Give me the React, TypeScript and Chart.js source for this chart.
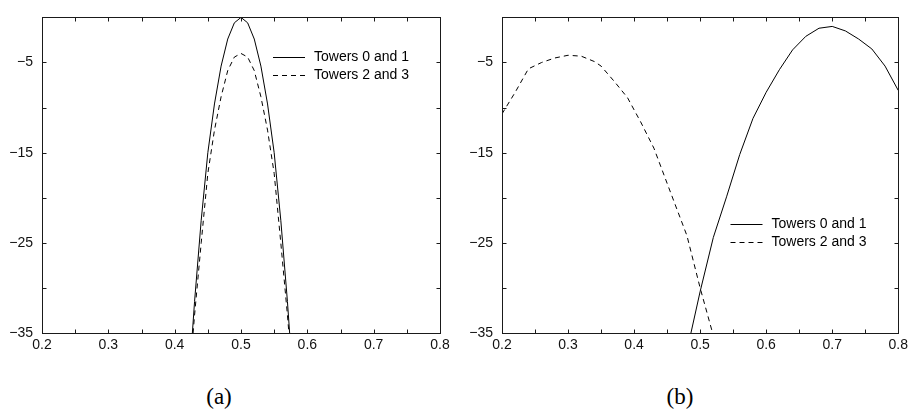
import React, { useEffect, useRef } from "react";
import { Chart, registerables } from "chart.js";

Chart.register(...registerables);

// ---- Panel (a) data ----
const aX = [0.42, 0.43, 0.44, 0.45, 0.46, 0.47, 0.48, 0.49, 0.5, 0.51, 0.52, 0.53, 0.54, 0.55, 0.56, 0.57, 0.58];
const aTowers01 = [-42, -31.5, -22.5, -15, -9.6, -5.4, -2.4, -0.6, 0, -0.6, -2.4, -5.4, -9.6, -15, -22.5, -31.5, -42];
const aTowers23 = [-42, -33, -25, -17.3, -12.5, -8.8, -5.9, -4.4, -4, -4.4, -5.9, -8.8, -12.5, -17.3, -25, -33, -42];

// ---- Panel (b) data ----
const bX01 = [0.48, 0.5, 0.52, 0.54, 0.56, 0.58, 0.6, 0.62, 0.64, 0.66, 0.68, 0.7, 0.72, 0.74, 0.76, 0.78, 0.8];
const bTowers01 = [-37, -30.4, -24.4, -19.9, -15.2, -11.2, -8.3, -5.8, -3.6, -2.1, -1.2, -1.0, -1.5, -2.4, -3.5, -5.4, -8.1];
const bX23 = [0.2, 0.22, 0.24, 0.26, 0.28, 0.3, 0.32, 0.34, 0.35, 0.37, 0.39, 0.41, 0.43, 0.45, 0.48, 0.5, 0.52];
const bTowers23 = [-10.7, -8.3, -5.7, -5.0, -4.5, -4.2, -4.3, -4.9, -5.4, -7.1, -8.9, -11.6, -14.5, -18.4, -24.2, -30.0, -35.3];

const seriesLabels = ["Towers 0 and 1", "Towers 2 and 3"];
const xMin = 0.2, xMax = 0.8, xStep = 0.05;
const yMin = -35, yMax = 0, yStep = 5;

const FONT = '"Liberation Sans", Arial, Helvetica, sans-serif';

const framePlugin = {
  id: "frame",
  afterDatasetsDraw(chart: any) {
    const { ctx, chartArea, scales } = chart;
    const l = Math.round(chartArea.left) + 0.5;
    const r = Math.round(chartArea.right) + 0.5;
    const t = Math.round(chartArea.top) + 0.5;
    const b = Math.round(chartArea.bottom) + 0.5;
    const L = 4;
    ctx.save();
    ctx.strokeStyle = "#1a1a1a";
    ctx.lineWidth = 1;
    ctx.strokeRect(l, t, r - l, b - t);
    ctx.beginPath();
    scales.x.ticks.forEach((tk: any) => {
      const px = Math.round(scales.x.getPixelForValue(tk.value)) + 0.5;
      ctx.moveTo(px, b);
      ctx.lineTo(px, b - L);
      ctx.moveTo(px, t);
      ctx.lineTo(px, t + L);
    });
    scales.y.ticks.forEach((tk: any) => {
      const py = Math.round(scales.y.getPixelForValue(tk.value)) + 0.5;
      ctx.moveTo(l, py);
      ctx.lineTo(l + L, py);
      ctx.moveTo(r, py);
      ctx.lineTo(r - L, py);
    });
    ctx.stroke();
    ctx.restore();
  },
};

const legendPlugin = {
  id: "innerLegend",
  afterDraw(chart: any, _args: any, opts: any) {
    const { ctx, chartArea } = chart;
    const x0 = chartArea.left + opts.x;
    const y0 = chartArea.top + opts.y;
    ctx.save();
    ctx.font = `14px ${FONT}`;
    ctx.textBaseline = "middle";
    ctx.textAlign = "left";
    chart.data.datasets.forEach((ds: any, i: number) => {
      const y = Math.round(y0 + i * opts.row) + 0.5;
      ctx.strokeStyle = ds.borderColor;
      ctx.lineWidth = 1;
      ctx.setLineDash(ds.borderDash || []);
      ctx.beginPath();
      ctx.moveTo(x0, y);
      ctx.lineTo(x0 + opts.len, y);
      ctx.stroke();
      ctx.setLineDash([]);
      ctx.fillStyle = "#000";
      ctx.fillText(ds.label, x0 + opts.len + 9, y);
    });
    ctx.restore();
  },
};

function makeConfig(
  s1x: number[], s1y: number[], s2x: number[], s2y: number[],
  yAxisWidth: number, padRight: number, legendPos: { x: number; y: number }
): any {
  return {
    type: "line",
    data: {
      datasets: [
        {
          label: seriesLabels[0],
          data: s1x.map((x, i) => ({ x, y: s1y[i] })),
          borderColor: "#000",
          borderWidth: 1,
          pointRadius: 0,
          tension: 0,
          fill: false,
        },
        {
          label: seriesLabels[1],
          data: s2x.map((x, i) => ({ x, y: s2y[i] })),
          borderColor: "#000",
          borderWidth: 1,
          borderDash: [5, 4],
          pointRadius: 0,
          tension: 0,
          fill: false,
        },
      ],
    },
    options: {
      animation: false,
      responsive: false,
      layout: { padding: { left: 0, top: 4, right: padRight, bottom: 0 } },
      plugins: {
        legend: { display: false },
        tooltip: { enabled: false },
        innerLegend: { x: legendPos.x, y: legendPos.y, row: 18.3, len: 32 },
      },
      scales: {
        x: {
          type: "linear",
          min: xMin,
          max: xMax,
          grid: { display: false, drawTicks: false },
          border: { display: false },
          afterFit: (s: any) => { s.height = 27; },
          ticks: {
            stepSize: xStep,
            autoSkip: false,
            maxRotation: 0,
            padding: 4,
            color: "#111",
            font: { family: FONT, size: 14 },
            callback: (v: number) => (Math.round(v * 100) % 10 === 0 ? v.toFixed(1) : ""),
          },
        },
        y: {
          type: "linear",
          min: yMin,
          max: yMax,
          grid: { display: false, drawTicks: false },
          border: { display: false },
          afterFit: (s: any) => { s.width = yAxisWidth; },
          ticks: {
            stepSize: yStep,
            autoSkip: false,
            padding: 9,
            color: "#111",
            font: { family: FONT, size: 14 },
            callback: (v: number) => {
              const r = Math.round(v);
              return r % 10 !== 0 ? "\u2212" + Math.abs(r) : "";
            },
          },
        },
      },
    },
    plugins: [framePlugin, legendPlugin],
  };
}

function Panel(props: { config: any; left: number }) {
  const ref = useRef<HTMLCanvasElement | null>(null);
  useEffect(() => {
    const chart = new Chart(ref.current as HTMLCanvasElement, props.config);
    return () => chart.destroy();
  }, []);
  return (
    <canvas
      ref={ref}
      width={456}
      height={360}
      style={{ position: "absolute", left: props.left, top: 0, width: 456, height: 360 }}
    />
  );
}

const captionStyle: React.CSSProperties = {
  position: "absolute",
  top: 385,
  fontFamily: '"Liberation Serif", "Times New Roman", serif',
  fontSize: 23,
  lineHeight: "23px",
  textAlign: "center",
  color: "#000",
};

export default function App() {
  const cfgA = makeConfig(aX, aTowers01, aX, aTowers23, 42, 16, { x: 231, y: 39.3 });
  const cfgB = makeConfig(bX01, bTowers01, bX23, bTowers23, 46, 12, { x: 228.5, y: 206.7 });
  return (
    <div style={{ position: "absolute", left: 0, top: 0, width: 912, height: 412, background: "#fff", overflow: "hidden" }}>
      <Panel config={cfgA} left={0} />
      <Panel config={cfgB} left={456} />
      <div style={{ ...captionStyle, left: 169, width: 100 }}>(a)</div>
      <div style={{ ...captionStyle, left: 630, width: 100 }}>(b)</div>
    </div>
  );
}
